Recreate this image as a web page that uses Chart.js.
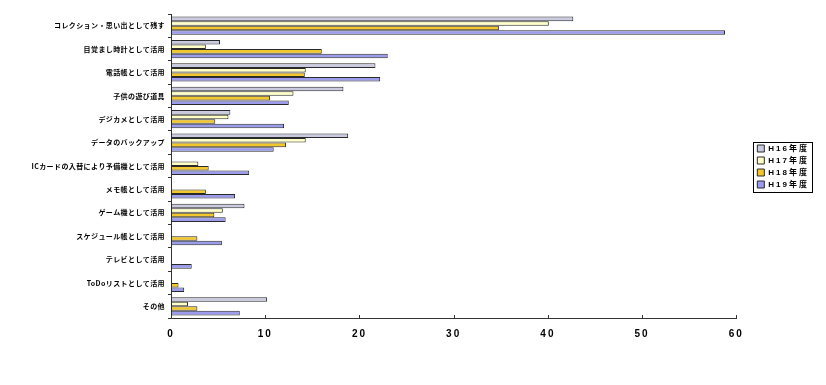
<!DOCTYPE html>
<html>
<head>
<meta charset="utf-8">
<script src="https://cdn.jsdelivr.net/npm/chart.js@4"></script>
<style>
  html, body { margin: 0; padding: 0; background: #ffffff; }
  #wrap { width: 826px; height: 385px; position: relative; }
</style>
</head>
<body>
<div id="wrap"><canvas id="c" width="826" height="385"></canvas></div>
<script>
const categories = [
  "コレクション・思い出として残す",
  "目覚まし時計として活用",
  "電話帳として活用",
  "子供の遊び道具",
  "デジカメとして活用",
  "データのバックアップ",
  "ICカードの入替により予備機として活用",
  "メモ帳として活用",
  "ゲーム機として活用",
  "スケジュール帳として活用",
  "テレビとして活用",
  "ToDoリストとして活用",
  "その他"
];
const seriesNames = ["H16年度", "H17年度", "H18年度", "H19年度"];
const h16 = [42.7, 5.2, 21.7, 18.3, 6.3, 18.8, null, null, 7.8, null, null, null, 10.2];
const h17 = [40.1, 3.7, 14.3, 13.0, 6.1, 14.3, 2.9, null, 5.5, null, null, null, 1.8];
const h18 = [34.8, 16.0, 14.2, 10.5, 4.7, 12.2, 4.0, 3.7, 4.6, 2.8, null, 0.8, 2.8];
const h19 = [58.8, 23.0, 22.2, 12.5, 12.0, 10.9, 8.3, 6.8, 5.8, 5.4, 2.2, 1.4, 7.3];
const xTicks = [0, 10, 20, 30, 40, 50, 60];

const fills = ["#CACAE0", "#FFFFC6", "#F2C72E", "#9C9CEC"];
const LEGEND_DX = 17;
const LEGEND_DY = -33;

const fx = {
  id: 'fx',
  afterLayout(chart) {
    const x = chart.scales.x, y = chart.scales.y, lg = chart.legend;
    if (x && !x.__p) {
      const o = x.drawLabels;
      x.drawLabels = function (a) { const c = this.ctx; c.save(); c.letterSpacing = '2px'; o.call(this, a); c.restore(); };
      x.__p = 1;
    }
    if (y && !y.__p) {
      const o = y.drawLabels;
      y.drawLabels = function (a) { const c = this.ctx; c.save(); c.letterSpacing = '0.4px'; o.call(this, a); c.restore(); };
      y.__p = 1;
    }
    if (lg && !lg.__p) {
      const o = lg.draw;
      lg.draw = function () {
        const c = this.ctx;
        c.save(); c.translate(LEGEND_DX, LEGEND_DY); c.letterSpacing = '2px';
        o.call(this);
        c.restore();
        const hb = this.legendHitBoxes || [];
        if (hb.length) {
          let l = Infinity, t = Infinity, b = -Infinity;
          hb.forEach(h => { l = Math.min(l, h.left); t = Math.min(t, h.top); b = Math.max(b, h.top + h.height); });
          c.save();
          c.strokeStyle = '#000'; c.lineWidth = 1;
          c.strokeRect(Math.round(l + LEGEND_DX - 4) + 0.5, Math.round(t + LEGEND_DY - 3) + 0.5, 59, Math.round(b - t + 6));
          c.restore();
        }
      };
      lg.__p = 1;
    }
  },
  afterDraw(chart) {
    const x = chart.scales.x, c = chart.ctx, bottom = chart.chartArea.bottom;
    c.save();
    c.strokeStyle = '#333'; c.lineWidth = 1;
    x.ticks.forEach(t => {
      if (t.value === 0) return;
      const px = Math.round(x.getPixelForValue(t.value)) + 0.5;
      c.beginPath(); c.moveTo(px, bottom); c.lineTo(px, bottom - 3); c.stroke();
    });
    c.restore();
  }
};

const dataSets = [h16, h17, h18, h19].map((d, i) => ({
  label: seriesNames[i],
  data: d,
  backgroundColor: fills[i],
  borderColor: '#2a2a2a',
  borderWidth: 1,
  borderSkipped: false,
  categoryPercentage: 0.78,
  barPercentage: 1.0
}));

new Chart(document.getElementById('c'), {
  type: 'bar',
  data: { labels: categories, datasets: dataSets },
  options: {
    indexAxis: 'y',
    responsive: false,
    animation: false,
    devicePixelRatio: 1,
    layout: { padding: { left: 0, right: 34, top: 14, bottom: 0 } },
    plugins: {
      tooltip: { enabled: false },
      legend: {
        position: 'right',
        align: 'center',
        labels: {
          boxWidth: 7, boxHeight: 7, padding: 4,
          color: '#000',
          font: { family: "'Liberation Sans', 'Noto Sans CJK JP', sans-serif", size: 8, weight: 'bold' }
        }
      }
    },
    scales: {
      x: {
        min: 0, max: 60,
        afterBuildTicks(s) { s.ticks = xTicks.map(v => ({ value: v })); },
        afterFit(s) { s.height = 67; },
        grid: { display: false, drawTicks: false },
        border: { display: true, color: '#333', width: 1 },
        ticks: {
          padding: 10,
          color: '#000',
          font: { family: "'Liberation Sans', sans-serif", size: 10, weight: 'bold' }
        }
      },
      y: {
        afterFit(s) { s.width = 171; },
        grid: { display: true, drawOnChartArea: false, drawTicks: true, tickLength: 3, color: '#333', offset: true },
        border: { display: true, color: '#333', width: 1 },
        ticks: {
          padding: 3,
          color: '#000',
          autoSkip: false,
          font: { family: "'Noto Sans CJK JP', sans-serif", size: 7, weight: 'bold' }
        }
      }
    }
  },
  plugins: [fx]
});
</script>
</body>
</html>
